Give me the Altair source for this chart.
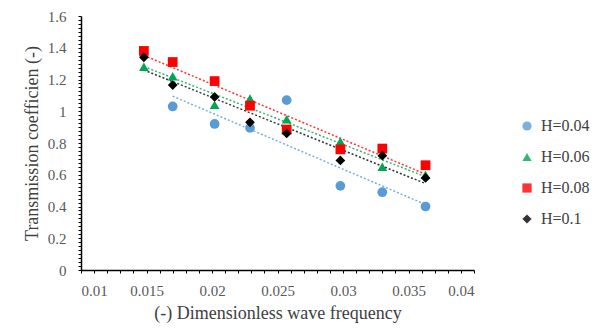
import altair as alt
import pandas as pd

freq = [0.0148, 0.0170, 0.0202, 0.0229, 0.0257, 0.0298, 0.0330, 0.0363]
series = ["H=0.04", "H=0.06", "H=0.08", "H=0.1"]
h004 = [None, 1.03, 0.92, 0.895, 1.07, 0.53, 0.49, 0.40]
h006 = [1.28, 1.22, 1.04, 1.08, 0.95, 0.81, 0.65, 0.60]
h008 = [1.38, 1.31, 1.19, 1.035, 0.885, 0.76, 0.765, 0.66]
h010 = [1.34, 1.165, 1.09, 0.93, 0.86, 0.69, 0.72, 0.58]
colors = ["#5B9BD5", "#00A651", "#FF0000", "#000000"]
shapes = ["circle", "triangle-up", "square", "diamond"]

rows = []
for name, vals in zip(series, [h004, h006, h008, h010]):
    for f, v in zip(freq, vals):
        if v is not None:
            rows.append({"f": f, "t": v, "s": name})
df = pd.DataFrame(rows)

FONT = "Liberation Serif"
xs = alt.Scale(domain=[0.01, 0.04], nice=False)
ys = alt.Scale(domain=[0, 1.6], nice=False)
x_minor = [round(0.01 + 0.001 * i, 3) for i in range(31)]
y_minor = [round(0.025 * i, 3) for i in range(65)]

common = dict(grid=False, labelOverlap=False, tickSize=3,
              labelFont=FONT, labelFontSize=15, labelColor="#595959",
              titleFont=FONT, titleFontSize=18, titleColor="#404040", titleFontWeight="normal",
              domainColor="#000000", domainWidth=1.5, tickColor="#000000", tickWidth=1)

xenc = alt.X("f:Q", scale=xs, title="(-) Dimensionless wave frequency",
             axis=alt.Axis(values=x_minor,
                           labelExpr="abs(datum.value*200 - round(datum.value*200)) < 0.001 ? (abs(datum.value*100 - round(datum.value*100)) < 0.001 ? format(datum.value, '.2f') : format(datum.value, '.3f')) : ''",
                           labelPadding=10, titlePadding=6, **common))
yenc = alt.Y("t:Q", scale=ys, title="Transmission coefficien (-)",
             axis=alt.Axis(values=y_minor,
                           labelExpr="abs(datum.value*5 - round(datum.value*5)) < 0.001 ? format(datum.value, '.1~f') : ''",
                           labelPadding=12, titlePadding=6, **common))
cenc = alt.Color("s:N", scale=alt.Scale(domain=series, range=colors),
                 legend=alt.Legend(title=None, orient="none", legendX=438, legendY=102,
                                   rowPadding=15, symbolSize=85, labelFontSize=16,
                                   labelFont=FONT, labelColor="#404040", symbolStrokeWidth=0,
                                   labelOffset=6))
senc = alt.Shape("s:N", scale=alt.Scale(domain=series, range=shapes), legend=None)

base = alt.Chart(df).encode(x=xenc, y=yenc, color=cenc)

lines = base.transform_regression("f", "t", groupby=["s"]).mark_line(
    strokeDash=[2, 2], strokeWidth=1.5, opacity=0.8
)

points = base.mark_point(filled=True, size=95, opacity=1).encode(shape=senc)

chart = alt.layer(lines, points).properties(
    width=393, height=254,
    autosize=alt.AutoSizeParams(type="none"),
    padding={"left": 73, "top": 8, "right": 118, "bottom": 64},
).configure_view(stroke=None).configure_axis(
    labelFont=FONT, labelFontSize=15, labelColor="#595959",
    titleFont=FONT, titleFontSize=18, titleColor="#404040",
)

chart.save("out.html", embed_options={"renderer": "svg", "actions": False})
